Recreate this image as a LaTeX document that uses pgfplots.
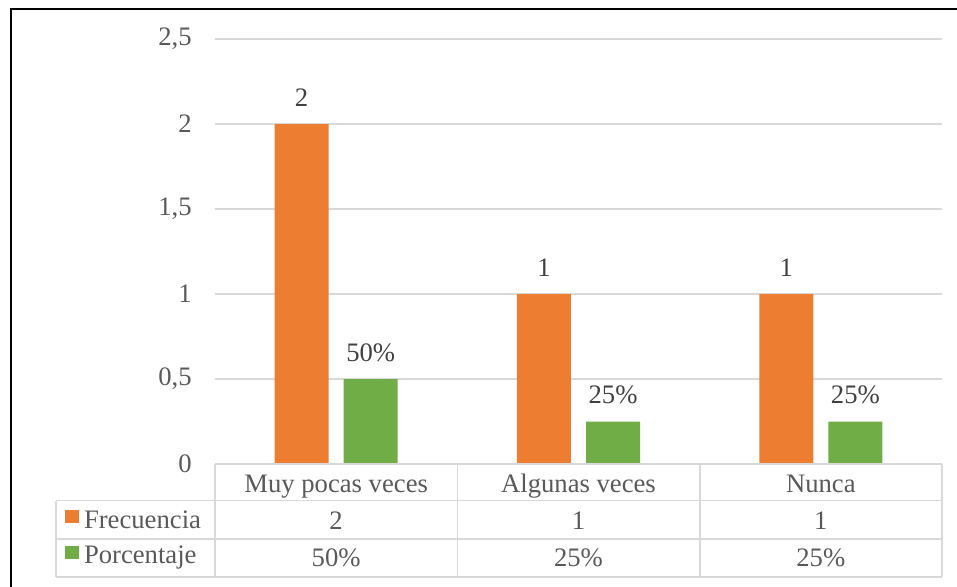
\documentclass[border=0pt]{standalone}
\usepackage{fontspec}
\setmainfont{Liberation Serif}
\usepackage{pgfplots}
\pgfplotsset{compat=1.18}
\definecolor{barorange}{HTML}{ED7D31}
\definecolor{bargreen}{HTML}{70AD47}
\definecolor{gridgray}{HTML}{D9D9D9}
\definecolor{textgray}{HTML}{595959}
\definecolor{labelgray}{HTML}{404040}
\begin{document}
\begin{tikzpicture}
\useasboundingbox (0,0) rectangle (717.75pt,-439.5pt);
\begin{axis}[
  at={(161.25pt,-348pt)}, anchor=south west,
  scale only axis, width=545.25pt, height=318.75pt,
  xmin=-0.5, xmax=2.5, ymin=0, ymax=2.5,
  ytick={0,0.5,1,1.5,2,2.5},
  xtick={0,1,2},
  xticklabels={{Muy pocas veces\\2\\50\%},{Algunas veces\\1\\25\%},{Nunca\\1\\25\%}},
  xticklabel style={align=center, anchor=base, yshift=-77pt, inner sep=0pt,
    font=\fontsize{20}{28}\selectfont, text=textgray},
  yticklabel style={anchor=east, inner sep=0pt, xshift=-17.25pt,
    font=\fontsize{20}{24}\selectfont, text=textgray},
  /pgf/number format/assume math mode=true,
  /pgf/number format/use comma,
  axis line style={draw=none},
  major tick length=0pt,
  ymajorgrids, major grid style={color=gridgray, line width=1pt},
  ybar, bar width=40.5pt,
  point meta=explicit symbolic,
  nodes near coords,
  nodes near coords style={anchor=base, yshift=13.5pt, inner sep=0pt,
    font=\fontsize{20}{24}\selectfont, text=labelgray},
  legend image code/.code={\fill[#1] (0pt,-1.25pt) rectangle (10.5pt,8.45pt);},
  legend style={at={(axis description cs:-0.2063,-0.1073)}, anchor=north west,
    draw=none, fill=none, inner sep=0pt, outer sep=0pt,
    font=\fontsize{20}{24}\selectfont, text=textgray,
    nodes={inner sep=0pt, outer sep=0pt, text height=14pt, text depth=4pt},
    row sep=8.5pt, column sep=3.75pt},
  legend cell align=left,
  clip=false,
]
\addplot[fill=barorange, draw=none, bar shift=-25.9pt]
  coordinates {(0,2) [2] (1,1) [1] (2,1) [1]};
\addlegendentry{Frecuencia}
\addplot[fill=bargreen, draw=none, bar shift=25.9pt]
  coordinates {(0,0.5) [50\%] (1,0.25) [25\%] (2,0.25) [25\%]};
\addlegendentry{Porcentaje}
\end{axis}
\begin{scope}[x=0.75pt,y=-0.75pt]
  \draw[gridgray, line width=1.2pt]
    (215,464) -- (942,464)
    (56,500.5) -- (942,500.5)
    (56,539) -- (942,539)
    (56,577) -- (942,577)
    (56,500.5) -- (56,577)
    (215,464) -- (215,577)
    (457.3,464) -- (457.3,577)
    (699.7,464) -- (699.7,577)
    (942,464) -- (942,577);
  \draw[black, line width=1.6pt] (11,590) -- (11,9) -- (960,9);
\end{scope}
\end{tikzpicture}
\end{document}
